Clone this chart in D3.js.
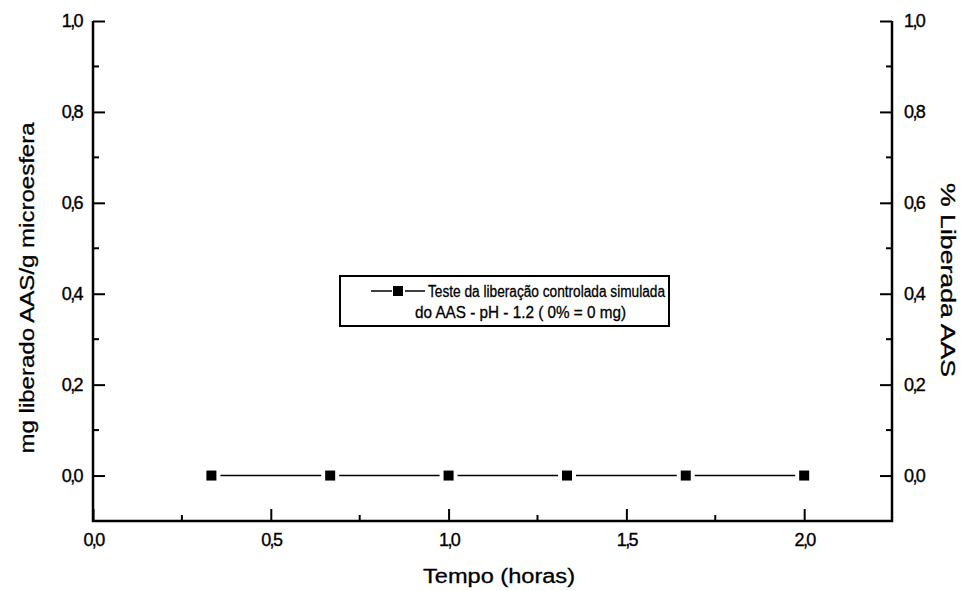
<!DOCTYPE html>
<html>
<head>
<meta charset="utf-8">
<script src="https://cdn.jsdelivr.net/npm/d3@7"></script>
<style>
  body { margin: 0; background: #fff; }
  svg { display: block; font-family: "Liberation Sans", Arial, sans-serif; }
</style>
</head>
<body>
<svg id="chart" width="966" height="591"></svg>
<script>
// ---- data ----
const timeHours = [0.333, 0.667, 1.0, 1.333, 1.667, 2.0];
const mgReleased = [0, 0, 0, 0, 0, 0];
const xTicks = [0.0, 0.5, 1.0, 1.5, 2.0];
const yTicks = [0.0, 0.2, 0.4, 0.6, 0.8, 1.0];
const xDomain = [0, 2.247];
const yDomain = [-0.1, 1.0];
const legendLines = ["Teste da liberação controlada simulada", "do AAS - pH - 1.2 ( 0% = 0 mg)"];
const xTitle = "Tempo (horas)";
const yTitleLeft = "mg liberado AAS/g microesfera";
const yTitleRight = "% Liberada AAS";

// ---- layout ----
const L = 93, R = 892, T = 21, B = 521;
const svg = d3.select("#chart");
const x = d3.scaleLinear().domain(xDomain).range([L, R]);
const y = d3.scaleLinear().domain(yDomain).range([B, T]);
const fmt = d => d3.format(".1f")(d).replace(".", ",");

function styleTicks(g) {
  g.select(".domain").remove();
  g.selectAll(".tick line").attr("stroke", "#000").attr("stroke-width", 2);
  g.selectAll(".tick text").attr("font-size", "18px").attr("letter-spacing", "-1.6px")
    .attr("fill", "#000").attr("stroke", "#000").attr("stroke-width", 0.35)
    .attr("font-family", "Liberation Sans, Arial, sans-serif");
}

// bottom axis (ticks inward)
const xMinor = d3.range(0.25, 2.25, 0.5);
const gx = svg.append("g").attr("transform", `translate(0,${B})`);
gx.call(d3.axisBottom(x).tickValues(xTicks).tickFormat(fmt).tickSize(-12).tickPadding(12));
styleTicks(gx);
gx.selectAll(".minor").data(xMinor).enter().append("line")
  .attr("x1", d => x(d)).attr("x2", d => x(d)).attr("y1", 0).attr("y2", -6)
  .attr("stroke", "#000").attr("stroke-width", 2);

// left axis
const yMinor = d3.range(-0.1, 1.0, 0.2).map(v => +v.toFixed(2));
const gy = svg.append("g").attr("transform", `translate(${L},0)`);
gy.call(d3.axisLeft(y).tickValues(yTicks).tickFormat(fmt).tickSize(-12).tickPadding(11));
styleTicks(gy);
gy.selectAll(".minor").data(yMinor.filter(v => v > -0.1)).enter().append("line")
  .attr("x1", 0).attr("x2", 6).attr("y1", d => y(d)).attr("y2", d => y(d))
  .attr("stroke", "#000").attr("stroke-width", 2);

// right axis
const gr = svg.append("g").attr("transform", `translate(${R},0)`);
gr.call(d3.axisRight(y).tickValues(yTicks).tickFormat(fmt).tickSize(-12).tickPadding(12));
styleTicks(gr);
gr.selectAll(".minor").data(yMinor.filter(v => v > -0.1)).enter().append("line")
  .attr("x1", 0).attr("x2", -6).attr("y1", d => y(d)).attr("y2", d => y(d))
  .attr("stroke", "#000").attr("stroke-width", 2);

// axis frame lines (left, bottom, right)
svg.append("path")
  .attr("d", `M${L},${T}V${B}H${R}V${T}`)
  .attr("fill", "none").attr("stroke", "#000").attr("stroke-width", 2.5);

// data line segments with gaps around markers
const pts = timeHours.map((t, i) => [x(t), y(mgReleased[i])]);
const gap = 9;
for (let i = 0; i < pts.length - 1; i++) {
  svg.append("line")
    .attr("x1", pts[i][0] + gap).attr("y1", pts[i][1])
    .attr("x2", pts[i + 1][0] - gap).attr("y2", pts[i + 1][1])
    .attr("stroke", "#000").attr("stroke-width", 1.5);
}
svg.selectAll(".pt").data(timeHours).enter().append("rect")
  .attr("x", (d) => x(d) - 5).attr("y", (d, i) => y(mgReleased[i]) - 5)
  .attr("width", 10).attr("height", 10).attr("fill", "#000");

// legend
const lg = svg.append("g");
lg.append("rect").attr("x", 340).attr("y", 276).attr("width", 329).attr("height", 50)
  .attr("fill", "#fff").attr("stroke", "#000").attr("stroke-width", 2);
lg.append("line").attr("x1", 371).attr("x2", 392).attr("y1", 291).attr("y2", 291).attr("stroke", "#000").attr("stroke-width", 1.5);
lg.append("line").attr("x1", 405).attr("x2", 425).attr("y1", 291).attr("y2", 291).attr("stroke", "#000").attr("stroke-width", 1.5);
lg.append("rect").attr("x", 393).attr("y", 286).attr("width", 10).attr("height", 10).attr("fill", "#000");
lg.append("text").attr("x", 428).attr("y", 297).text(legendLines[0])
  .attr("font-size", "16px").attr("stroke", "#000").attr("stroke-width", 0.3)
  .attr("textLength", 237).attr("lengthAdjust", "spacingAndGlyphs");
lg.append("text").attr("x", 415).attr("y", 318).text(legendLines[1])
  .attr("font-size", "16px").attr("stroke", "#000").attr("stroke-width", 0.3)
  .attr("textLength", 211).attr("lengthAdjust", "spacingAndGlyphs");

// titles
svg.append("text").attr("x", 499).attr("y", 583).attr("text-anchor", "middle")
  .attr("font-size", "20px").attr("stroke", "#000").attr("stroke-width", 0.3)
  .attr("textLength", 152).attr("lengthAdjust", "spacingAndGlyphs").text(xTitle);
svg.append("text").attr("transform", "translate(34,288) rotate(-90)").attr("text-anchor", "middle")
  .attr("font-size", "20px").attr("stroke", "#000").attr("stroke-width", 0.3)
  .attr("textLength", 331).attr("lengthAdjust", "spacingAndGlyphs").text(yTitleLeft);
svg.append("text").attr("transform", "translate(941,280) rotate(90)").attr("text-anchor", "middle")
  .attr("font-size", "20px").attr("stroke", "#000").attr("stroke-width", 0.3)
  .attr("textLength", 194).attr("lengthAdjust", "spacingAndGlyphs").text(yTitleRight);
</script>
</body>
</html>
